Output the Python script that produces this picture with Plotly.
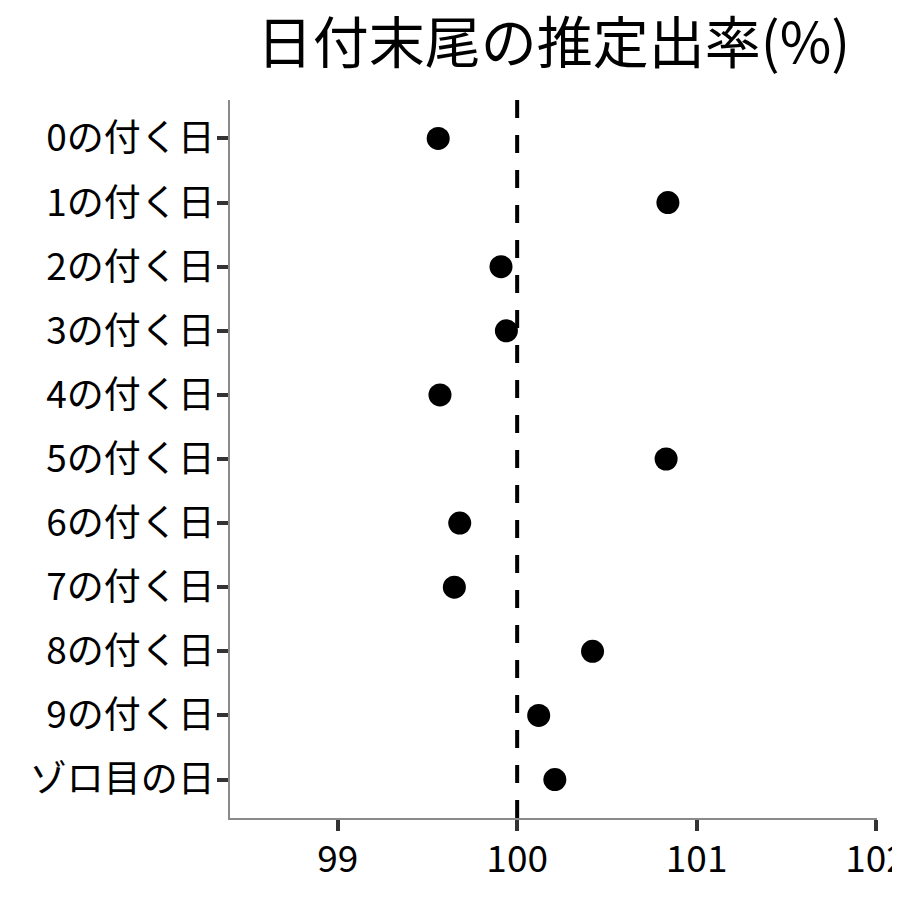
import plotly.graph_objects as go

categories = ["0の付く日", "1の付く日", "2の付く日", "3の付く日", "4の付く日",
              "5の付く日", "6の付く日", "7の付く日", "8の付く日", "9の付く日", "ゾロ目の日"]
rates = [99.56, 100.84, 99.91, 99.94, 99.57, 100.83, 99.68, 99.65, 100.42, 100.12, 100.21]
x_ticks = [99, 100, 101, 102]
ref_value = 100
title_text = "日付末尾の推定出率(%)"

FONT = "Noto Sans CJK JP"

fig = go.Figure()
fig.add_trace(go.Scatter(
    x=rates, y=categories, mode="markers",
    marker=dict(size=23, color="black", line=dict(width=0)),
    cliponaxis=False, showlegend=False,
))

fig.add_shape(type="line", xref="x", yref="paper",
              x0=ref_value, x1=ref_value, y0=0, y1=1,
              line=dict(color="black", width=4, dash="18px,17px"), layer="above")

fig.update_layout(
    width=900, height=900,
    paper_bgcolor="white", plot_bgcolor="white",
    margin=dict(l=222, r=31, t=92, b=90, autoexpand=False),
    title=dict(text=title_text, x=(222 + 869) / 2 / 900, xanchor="center",
               y=1 - 35 / 900, yanchor="middle",
               font=dict(family=FONT, size=56, color="black")),
    font=dict(family=FONT, color="black"),
    xaxis=dict(range=[98.4, 102.005], tickvals=x_ticks, ticktext=[str(v) for v in x_ticks],
               showgrid=False, zeroline=False, automargin=False,
               showline=True, linecolor="#8a8a8a", linewidth=1.5,
               ticks="outside", ticklen=11, tickwidth=3.5, tickcolor="#333333",
               ticklabelstandoff=-3,
               tickfont=dict(family=FONT, size=37, color="black")),
    yaxis=dict(type="category", categoryorder="array", categoryarray=categories,
               range=[10.6, -0.6], automargin=False,
               showgrid=False, zeroline=False,
               showline=True, linecolor="#8a8a8a", linewidth=1.5,
               ticks="outside", ticklen=11, tickwidth=3.5, tickcolor="#333333",
               ticklabelstandoff=-5,
               tickfont=dict(family=FONT, size=37, color="black")),
)

fig.write_html("out.html")
